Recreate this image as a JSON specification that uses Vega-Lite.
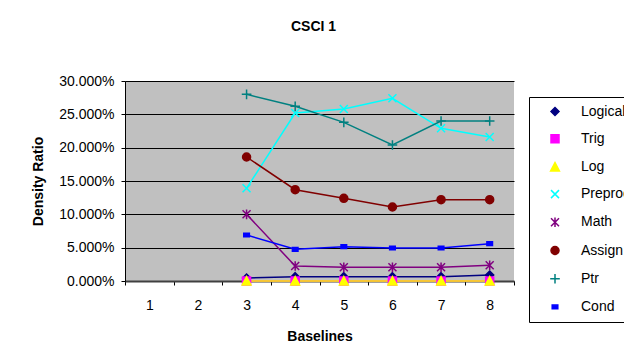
{
  "$schema": "https://vega.github.io/schema/vega-lite/v6.json",
  "autosize": "none",
  "width": 389,
  "height": 200,
  "padding": {"left": 125, "top": 81, "right": 110, "bottom": 81},
  "background": "white",
  "config": {
    "font": "Liberation Sans",
    "view": {"fill": "#C0C0C0", "stroke": null},
    "axis": {"labelFont": "Liberation Sans", "titleFont": "Liberation Sans", "labelColor": "black", "titleColor": "black", "labelFontSize": 14, "titleFontSize": 14, "titleFontWeight": "bold"},
    "legend": {"title": null, "orient": "none", "legendX": 404, "legendY": 16, "padding": 7.5, "fillColor": "white", "strokeColor": "black", "labelFont": "Liberation Sans", "labelFontSize": 14, "labelColor": "black", "symbolSize": 64, "symbolOffset": 11.5, "labelOffset": 19, "rowPadding": 13.2, "symbolStrokeWidth": 1.5}
  },
  "title": {"text": "CSCI 1", "fontSize": 14, "fontWeight": "bold", "font": "Liberation Sans", "color": "black", "anchor": "middle", "frame": "group", "dx": -6, "offset": 40},
  "data": {"values": [
    {"series": "Logical", "baseline": "3", "value": 0.0045},
    {"series": "Logical", "baseline": "4", "value": 0.0065},
    {"series": "Logical", "baseline": "5", "value": 0.0065},
    {"series": "Logical", "baseline": "6", "value": 0.0065},
    {"series": "Logical", "baseline": "7", "value": 0.0065},
    {"series": "Logical", "baseline": "8", "value": 0.009},
    {"series": "Trig", "baseline": "3", "value": 0},
    {"series": "Trig", "baseline": "4", "value": 0},
    {"series": "Trig", "baseline": "5", "value": 0},
    {"series": "Trig", "baseline": "6", "value": 0},
    {"series": "Trig", "baseline": "7", "value": 0},
    {"series": "Trig", "baseline": "8", "value": 0},
    {"series": "Log", "baseline": "3", "value": 0},
    {"series": "Log", "baseline": "4", "value": 0},
    {"series": "Log", "baseline": "5", "value": 0},
    {"series": "Log", "baseline": "6", "value": 0},
    {"series": "Log", "baseline": "7", "value": 0},
    {"series": "Log", "baseline": "8", "value": 0},
    {"series": "Preproc", "baseline": "3", "value": 0.139},
    {"series": "Preproc", "baseline": "4", "value": 0.252},
    {"series": "Preproc", "baseline": "5", "value": 0.258},
    {"series": "Preproc", "baseline": "6", "value": 0.274},
    {"series": "Preproc", "baseline": "7", "value": 0.229},
    {"series": "Preproc", "baseline": "8", "value": 0.216},
    {"series": "Math", "baseline": "3", "value": 0.100},
    {"series": "Math", "baseline": "4", "value": 0.0225},
    {"series": "Math", "baseline": "5", "value": 0.0205},
    {"series": "Math", "baseline": "6", "value": 0.0205},
    {"series": "Math", "baseline": "7", "value": 0.0205},
    {"series": "Math", "baseline": "8", "value": 0.0235},
    {"series": "Assign", "baseline": "3", "value": 0.186},
    {"series": "Assign", "baseline": "4", "value": 0.137},
    {"series": "Assign", "baseline": "5", "value": 0.124},
    {"series": "Assign", "baseline": "6", "value": 0.111},
    {"series": "Assign", "baseline": "7", "value": 0.122},
    {"series": "Assign", "baseline": "8", "value": 0.122},
    {"series": "Ptr", "baseline": "3", "value": 0.280},
    {"series": "Ptr", "baseline": "4", "value": 0.262},
    {"series": "Ptr", "baseline": "5", "value": 0.238},
    {"series": "Ptr", "baseline": "6", "value": 0.204},
    {"series": "Ptr", "baseline": "7", "value": 0.240},
    {"series": "Ptr", "baseline": "8", "value": 0.240},
    {"series": "Cond", "baseline": "3", "value": 0.069},
    {"series": "Cond", "baseline": "4", "value": 0.0475},
    {"series": "Cond", "baseline": "5", "value": 0.0515},
    {"series": "Cond", "baseline": "6", "value": 0.0495},
    {"series": "Cond", "baseline": "7", "value": 0.0495},
    {"series": "Cond", "baseline": "8", "value": 0.056}
  ]},
  "encoding": {
    "x": {"field": "baseline", "type": "ordinal", "bandPosition": 0.5,
      "scale": {"type": "band", "domain": ["1","2","3","4","5","6","7","8"], "paddingInner": 0, "paddingOuter": 0},
      "axis": {"title": "Baselines", "labelAngle": 0, "tickBand": "extent", "tickSize": 4, "tickColor": "black", "domainColor": "#404040", "domainWidth": 2, "labelPadding": 13, "titlePadding": 17, "grid": false}},
    "y": {"field": "value", "type": "quantitative",
      "scale": {"domain": [0, 0.3], "nice": false},
      "axis": {"title": "Density Ratio", "format": ".3%", "values": [0, 0.05, 0.1, 0.15, 0.2, 0.25, 0.3], "grid": true, "gridColor": "black", "gridWidth": 1, "gridOpacity": 1, "domainColor": "black", "tickColor": "black", "tickSize": 4, "labelPadding": 7, "titlePadding": 13}},
    "color": {"field": "series", "type": "nominal",
      "scale": {"domain": ["Logical","Trig","Log","Preproc","Math","Assign","Ptr","Cond"],
        "range": ["#000080","#FF00FF","#FFFF00","#00FFFF","#800080","#800000","#008080","#0000FF"]},
      "legend": {"encode": {"symbols": {"update": {
        "shape": {"signal": "'M-4.5,0H4.5' + (datum.value == 'Logical' ? 'M0,-1L1,0L0,1L-1,0Z' : datum.value == 'Trig' ? 'M-1,-1H1V1H-1Z' : datum.value == 'Log' ? 'M0,-1.1L1.1,1H-1.1Z' : datum.value == 'Preproc' ? 'M-1,-1L1,1M-1,1L1,-1' : datum.value == 'Math' ? 'M-1,-1L1,1M-1,1L1,-1M0,-1.2V1.2' : datum.value == 'Assign' ? 'M1,0A1,1 0 1,1 -1,0A1,1 0 1,1 1,0Z' : datum.value == 'Ptr' ? 'M0,-1.2V1.2M-1.2,0H1.2' : 'M-0.7,-0.45H0.7V0.45H-0.7Z')"},
        "fill": {"scale": "color", "field": "value"},
        "stroke": {"scale": "color", "field": "value"},
        "strokeWidth": {"value": 1.5}
      }}}}
    }
  },
  "layer": [
    {"mark": {"type": "line", "strokeWidth": 1.5}},
    {"mark": {"type": "point", "filled": true, "size": 64, "opacity": 1, "strokeWidth": 1.5},
      "encoding": {
        "stroke": {"field": "series", "type": "nominal", "legend": null,
          "scale": {"domain": ["Logical","Trig","Log","Preproc","Math","Assign","Ptr","Cond"],
            "range": ["#000080","#FF00FF","#FFFF00","#00FFFF","#800080","#800000","#008080","#0000FF"]}},
        "shape": {"field": "series", "type": "nominal", "legend": null,
          "scale": {"domain": ["Logical","Trig","Log","Preproc","Math","Assign","Ptr","Cond"],
            "range": ["M0,-1L1,0L0,1L-1,0Z", "M-1,-1H1V1H-1Z", "M0,-1.1L1.1,1H-1.1Z", "M-1,-1L1,1M-1,1L1,-1", "M-1,-1L1,1M-1,1L1,-1M0,-1.2V1.2", "M1,0A1,1 0 1,1 -1,0A1,1 0 1,1 1,0Z", "M0,-1.2V1.2M-1.2,0H1.2", "M-0.7,-0.45H0.7V0.45H-0.7Z"]}
        }
      }
    }
  ]
}
